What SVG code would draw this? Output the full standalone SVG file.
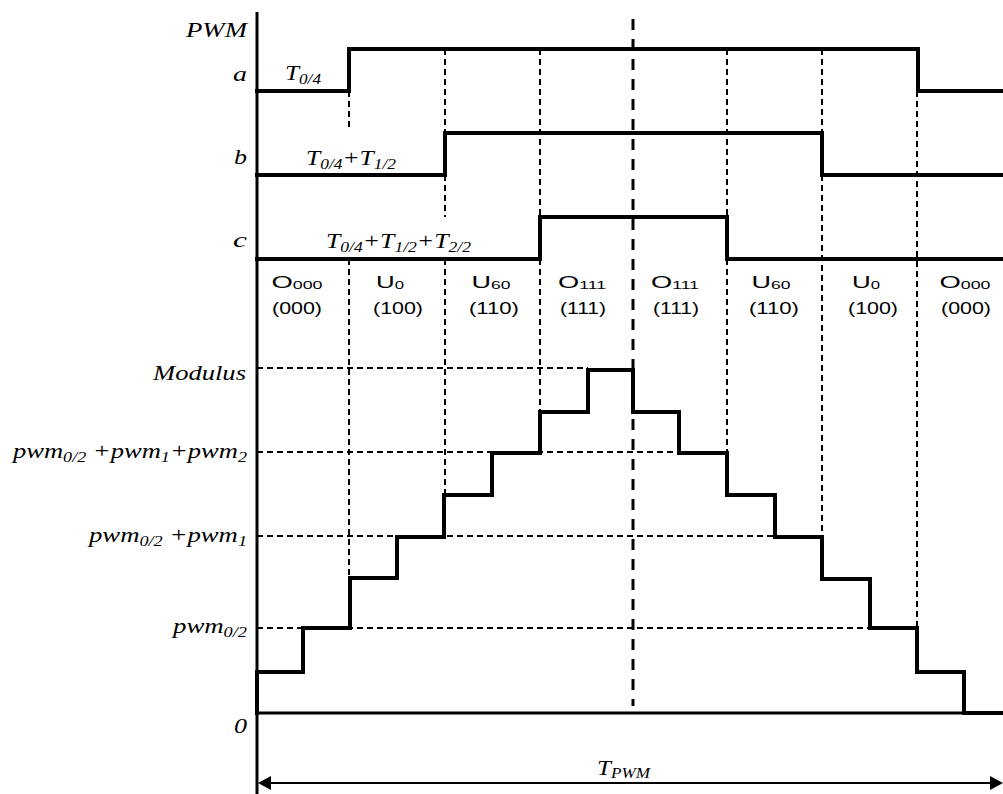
<svg xmlns="http://www.w3.org/2000/svg" width="1003" height="794" viewBox="0 0 1003 794">
<style>
.sig{fill:none;stroke:#000;stroke-width:4;stroke-linejoin:miter;stroke-linecap:square}
.axis{fill:none;stroke:#000;stroke-width:3}
.dot{fill:none;stroke:#000;stroke-width:2;stroke-dasharray:6 4}
.mid{fill:none;stroke:#000;stroke-width:3;stroke-dasharray:11 9}
.it{font-family:"Liberation Serif","Times New Roman",serif;font-style:italic;font-size:22px;fill:#000}
.sub{font-size:15px}
.st{font-family:"Liberation Sans",Arial,sans-serif;font-size:17px;fill:#000;text-anchor:middle}
.ss{font-size:11px}
</style>
<rect x="0" y="0" width="1003" height="794" fill="#fff"/>

<g id="connectors">
  <g id="grid-dotted">
    <path class="dot" d="M349,91V131M349,259V578"/>
    <path class="dot" d="M445,49V133M445,175V217M445,259V494"/>
    <path class="dot" d="M540,49V217M540,259V412"/>
    <path class="dot" d="M727,49V217M727,259V453"/>
    <path class="dot" d="M822,49V133M822,175V537"/>
    <path class="dot" d="M917,91V628"/>
    <path class="dot" d="M257,368H588M257,452H679M257,536H775M257,628H870"/>
  </g>
  <path id="center-line" class="mid" d="M633,19V706"/>
  <line id="axis" class="axis" x1="257" y1="12" x2="257" y2="794"/>
  <line id="baseline" class="axis" x1="257" y1="713" x2="1003" y2="713"/>
  <path id="sig-a" class="sig" d="M257,91H349V49H918V91H1005"/>
  <path id="sig-b" class="sig" d="M257,175H445V133H822V175H1005"/>
  <path id="sig-c" class="sig" d="M257,259H540V217H727V259H1005"/>
  <path id="stair" class="sig" d="M257,713V672H303V628H350V578H397V537H444V495H492V453H540V412H588V370H633V412H679V453H727V495H775V537H822V579H870V628H917V672H964V713H1005"/>
  <g id="tpwm-arrow">
    <line x1="266" y1="783" x2="994" y2="783" stroke="#000" stroke-width="2"/>
    <polygon points="258,783 271,776 271,790" fill="#000"/>
    <polygon points="1003,783 990,776 990,790" fill="#000"/>
  </g>
</g>

<g id="label-pwm"><text class="it" x="247" y="37" text-anchor="end" textLength="61" lengthAdjust="spacingAndGlyphs">PWM</text></g>
<g id="label-a"><text class="it" x="247" y="81" text-anchor="end" textLength="14" lengthAdjust="spacingAndGlyphs">a</text></g>
<g id="label-b"><text class="it" x="247" y="164" text-anchor="end" textLength="13" lengthAdjust="spacingAndGlyphs">b</text></g>
<g id="label-c"><text class="it" x="247" y="247" text-anchor="end" textLength="14" lengthAdjust="spacingAndGlyphs">c</text></g>

<g id="t-a"><text class="it" x="285" y="80" textLength="36" lengthAdjust="spacingAndGlyphs">T<tspan class="sub" dy="4">0/4</tspan></text></g>
<g id="t-b"><text class="it" x="306" y="165" textLength="90" lengthAdjust="spacingAndGlyphs">T<tspan class="sub" dy="4">0/4</tspan><tspan dy="-4">+T</tspan><tspan class="sub" dy="4">1/2</tspan></text></g>
<g id="t-c"><text class="it" x="326" y="248" textLength="145" lengthAdjust="spacingAndGlyphs">T<tspan class="sub" dy="4">0/4</tspan><tspan dy="-4">+T</tspan><tspan class="sub" dy="4">1/2</tspan><tspan dy="-4">+T</tspan><tspan class="sub" dy="4">2/2</tspan></text></g>

<g id="state-1"><text class="st" x="297" y="288" textLength="51" lengthAdjust="spacingAndGlyphs">O<tspan class="ss" dy="1">000</tspan></text><text class="st" x="297" y="314" textLength="50" lengthAdjust="spacingAndGlyphs">(000)</text></g>
<g id="state-2"><text class="st" x="390" y="288" textLength="28" lengthAdjust="spacingAndGlyphs">U<tspan class="ss" dy="1">0</tspan></text><text class="st" x="398" y="314" textLength="50" lengthAdjust="spacingAndGlyphs">(100)</text></g>
<g id="state-3"><text class="st" x="491" y="288" textLength="39" lengthAdjust="spacingAndGlyphs">U<tspan class="ss" dy="1">60</tspan></text><text class="st" x="494" y="314" textLength="50" lengthAdjust="spacingAndGlyphs">(110)</text></g>
<g id="state-4"><text class="st" x="582" y="288" textLength="48" lengthAdjust="spacingAndGlyphs">O<tspan class="ss" dy="1">111</tspan></text><text class="st" x="583" y="314" textLength="46" lengthAdjust="spacingAndGlyphs">(111)</text></g>
<g id="state-5"><text class="st" x="675" y="288" textLength="48" lengthAdjust="spacingAndGlyphs">O<tspan class="ss" dy="1">111</tspan></text><text class="st" x="676" y="314" textLength="46" lengthAdjust="spacingAndGlyphs">(111)</text></g>
<g id="state-6"><text class="st" x="771" y="288" textLength="39" lengthAdjust="spacingAndGlyphs">U<tspan class="ss" dy="1">60</tspan></text><text class="st" x="774" y="314" textLength="50" lengthAdjust="spacingAndGlyphs">(110)</text></g>
<g id="state-7"><text class="st" x="866" y="288" textLength="28" lengthAdjust="spacingAndGlyphs">U<tspan class="ss" dy="1">0</tspan></text><text class="st" x="873" y="314" textLength="50" lengthAdjust="spacingAndGlyphs">(100)</text></g>
<g id="state-8"><text class="st" x="965" y="288" textLength="51" lengthAdjust="spacingAndGlyphs">O<tspan class="ss" dy="1">000</tspan></text><text class="st" x="966" y="314" textLength="50" lengthAdjust="spacingAndGlyphs">(000)</text></g>

<g id="level-modulus"><text class="it" x="246" y="380" text-anchor="end" textLength="93" lengthAdjust="spacingAndGlyphs">Modulus</text></g>
<g id="level-3"><text class="it" x="247" y="458" text-anchor="end" textLength="234" lengthAdjust="spacingAndGlyphs">pwm<tspan class="sub" dy="4">0/2</tspan><tspan dy="-4"> +pwm</tspan><tspan class="sub" dy="4">1</tspan><tspan dy="-4">+pwm</tspan><tspan class="sub" dy="4">2</tspan></text></g>
<g id="level-2"><text class="it" x="247" y="542" text-anchor="end" textLength="158" lengthAdjust="spacingAndGlyphs">pwm<tspan class="sub" dy="4">0/2</tspan><tspan dy="-4"> +pwm</tspan><tspan class="sub" dy="4">1</tspan></text></g>
<g id="level-1"><text class="it" x="247" y="633" text-anchor="end" textLength="74" lengthAdjust="spacingAndGlyphs">pwm<tspan class="sub" dy="4">0/2</tspan></text></g>
<g id="level-0"><text class="it" x="247" y="733" text-anchor="end" textLength="13" lengthAdjust="spacingAndGlyphs">0</text></g>
<g id="label-tpwm"><text class="it" x="597" y="775" textLength="53" lengthAdjust="spacingAndGlyphs">T<tspan class="sub" dy="3">PWM</tspan></text></g>
</svg>
